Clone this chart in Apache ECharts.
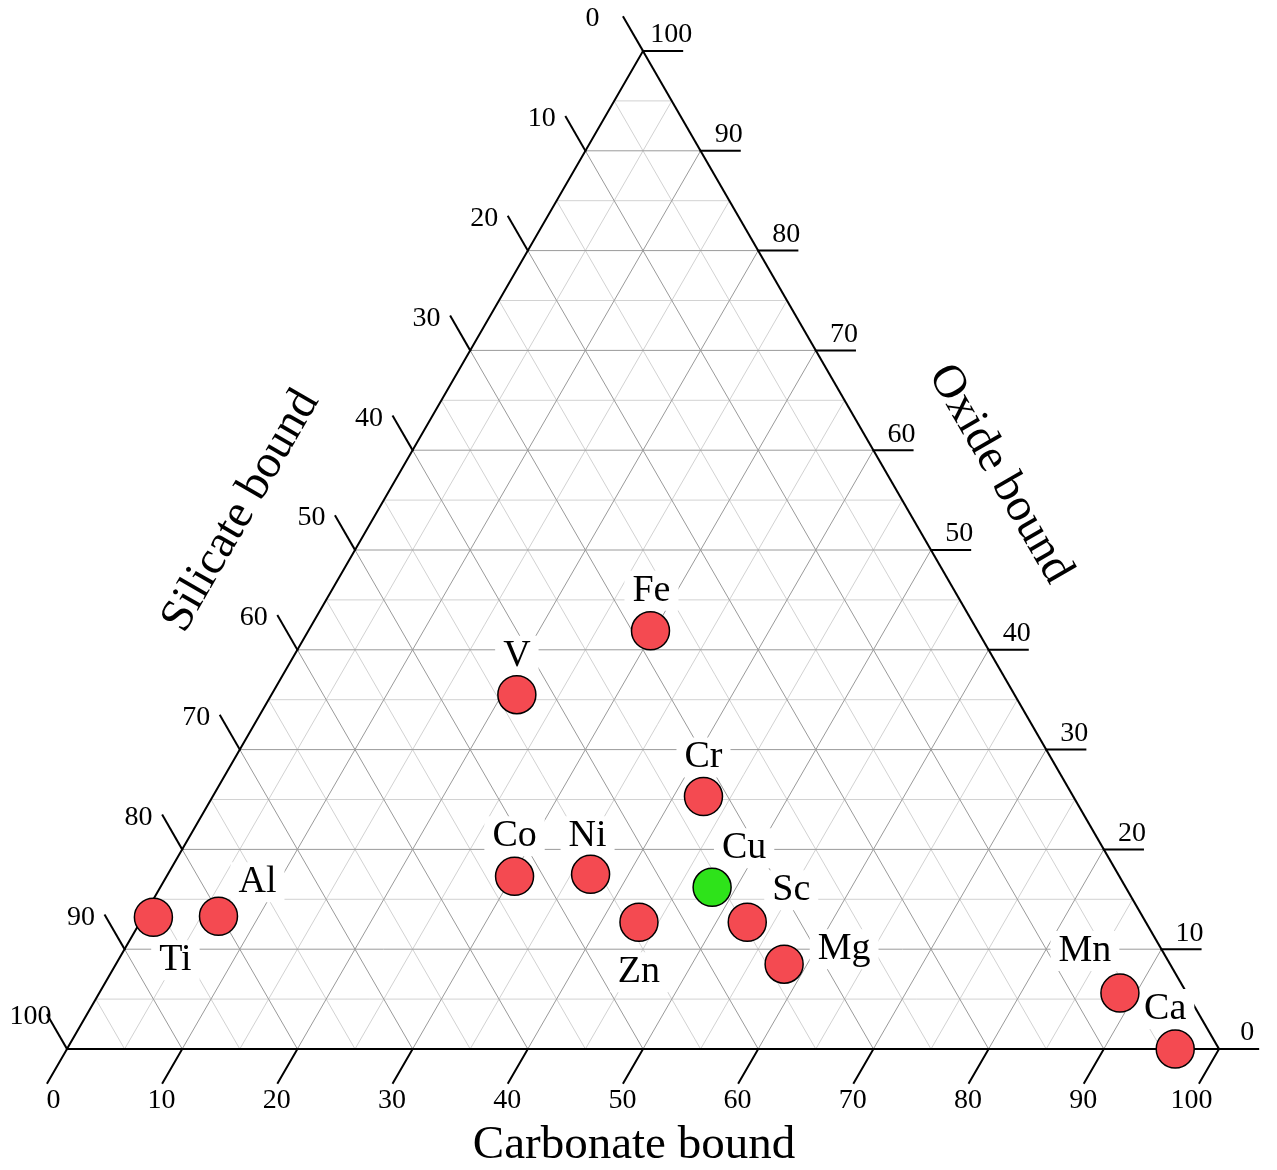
<!DOCTYPE html>
<html>
<head>
<meta charset="utf-8">
<script src="https://cdn.jsdelivr.net/npm/echarts@6/dist/echarts.min.js"></script>
<style>
  html, body { margin: 0; padding: 0; background: #fff; }
  #chart { width: 1277px; height: 1170px; }
</style>
</head>
<body>
<div id="chart"></div>
<script>
// Partitioning of each element between carbonate, silicate and oxide bound fractions (%)
const elements  = ['Ti', 'Al', 'V', 'Fe', 'Co', 'Ni', 'Zn', 'Cr', 'Cu', 'Sc', 'Mg', 'Mn', 'Ca'];
const carbonate = [0.9, 6.5, 21.3, 29.7, 30.2, 36.7, 43.3, 42.6, 47.9, 52.7, 58.0, 88.6, 96.2];
const silicate  = [85.9, 80.2, 43.2, 28.4, 52.5, 45.8, 44.0, 32.1, 35.9, 34.6, 33.5, 5.8, 3.8];
const oxide     = [13.2, 13.3, 35.5, 41.9, 17.3, 17.5, 12.7, 25.3, 16.2, 12.7, 8.5, 5.6, 0.0];
const highlighted = ['Cu'];

// Axis names and tick values
const axisTitles = ['Carbonate bound', 'Silicate bound', 'Oxide bound'];
const tickValues = [0, 10, 20, 30, 40, 50, 60, 70, 80, 90, 100];
const minorValues = [5, 15, 25, 35, 45, 55, 65, 75, 85, 95];

// ---- layout / style settings ----
const FONT = '"Liberation Serif", "Times New Roman", serif';
const TICK_LEN = 3.4;                 // tick length in percent units
const labelOffset = {                 // pixel offsets of element names from their markers
  Ti: [22, 43], Al: [39, -34], V: [0, -39], Fe: [1, -40], Co: [0, -40], Ni: [-3, -38],
  Zn: [0, 50], Cr: [0, -39], Cu: [32, -39], Sc: [44, -32], Mg: [60, -15], Mn: [-35, -42], Ca: [-10, -40]
};

// ternary (carbonate, silicate, oxide) -> plane coordinates; x = c + o/2, y = o
function toPlane(c, s, o) {
  const t = c + s + o;
  return [(c + o / 2) / t * 100, o / t * 100];
}

// grid segments: constant oxide (horizontal), constant carbonate, constant silicate
function gridSegments(values) {
  const segs = [];
  values.forEach(v => {
    if (v <= 0 || v >= 100) return;
    segs.push([v / 2, v, 100 - v / 2, v]);
    segs.push([v, 0, (100 + v) / 2, 100 - v]);
    segs.push([100 - v, 0, (100 - v) / 2, 100 - v]);
  });
  return segs;
}
const majorSegs = gridSegments(tickValues);
const minorSegs = gridSegments(minorValues);

// frame: triangle edges + outward ticks
const frameSegs = [[0, 0, 100, 0], [100, 0, 50, 100], [50, 100, 0, 0]];
const tickLabels = [];   // [x, y, axis, value]
tickValues.forEach(v => {
  // carbonate ticks along bottom edge
  const cb = [v - TICK_LEN / 2, -TICK_LEN];
  frameSegs.push([v, 0, cb[0], cb[1]]);
  tickLabels.push([cb[0], cb[1], 0, v]);
  // silicate ticks along left edge
  const sx = (100 - v) / 2, sy = 100 - v;
  const se = [(100 - v - TICK_LEN) / 2, 100 - v + TICK_LEN];
  frameSegs.push([sx, sy, se[0], se[1]]);
  tickLabels.push([se[0], se[1], 1, v]);
  // oxide ticks along right edge
  const ox = 100 - v / 2, oy = v;
  frameSegs.push([ox, oy, ox + TICK_LEN, oy]);
  tickLabels.push([ox + TICK_LEN, oy, 2, v]);
});

// axis title anchors at the edge midpoints
const titleAnchors = [[50, 0, 0], [25, 50, 1], [75, 50, 2]];
const titleStyle = [
  { dx: -9, dy: 97, rot: 0 },
  { dx: -114, dy: -39, rot: Math.PI / 3 },
  { dx: 69, dy: -76, rot: -Math.PI / 3 }
];

const points = elements.map((el, i) => {
  const p = toPlane(carbonate[i], silicate[i], oxide[i]);
  return {
    name: el,
    value: [p[0], p[1], i],
    itemStyle: { color: highlighted.indexOf(el) >= 0 ? '#2ee31a' : '#f44a51' }
  };
});

function segmentRenderer(color, width) {
  return function (params, api) {
    const a = api.coord([api.value(0), api.value(1)]);
    const b = api.coord([api.value(2), api.value(3)]);
    return {
      type: 'line',
      shape: { x1: a[0], y1: a[1], x2: b[0], y2: b[1] },
      style: { stroke: color, lineWidth: width, lineCap: 'square' },
      silent: true
    };
  };
}

function textEl(x, y, text, size, align, vAlign, extra) {
  const style = Object.assign({
    text: text, x: x, y: y, fill: '#000',
    font: size + 'px ' + FONT,
    align: align, verticalAlign: vAlign,
    textAlign: align, textVerticalAlign: vAlign
  }, extra || {});
  return { type: 'text', style: style, silent: true };
}

const chart = echarts.init(document.getElementById('chart'), null, { renderer: 'canvas' });
chart.setOption({
  animation: false,
  backgroundColor: '#fff',
  grid: { left: 67, right: 58, top: 51, bottom: 121 },
  xAxis: { type: 'value', min: 0, max: 100, show: false },
  yAxis: { type: 'value', min: 0, max: 100, show: false },
  series: [
    {
      type: 'custom', z: 1, data: minorSegs, encode: { x: [0, 2], y: [1, 3] },
      renderItem: segmentRenderer('#d2d2d2', 1)
    },
    {
      type: 'custom', z: 1, data: majorSegs, encode: { x: [0, 2], y: [1, 3] },
      renderItem: segmentRenderer('#9a9a9a', 1)
    },
    {
      type: 'custom', z: 2, data: frameSegs, encode: { x: [0, 2], y: [1, 3] },
      renderItem: segmentRenderer('#000', 2)
    },
    {
      // tick labels
      type: 'custom', z: 2, data: tickLabels, encode: { x: 0, y: 1 },
      renderItem: function (params, api) {
        const p = api.coord([api.value(0), api.value(1)]);
        const axis = api.value(2);
        const txt = String(api.value(3));
        if (axis === 0) return textEl(p[0] + 13, p[1] + 18, txt, 28, 'right', 'middle');
        if (axis === 1) return textEl(p[0] - 38, p[1] + 2, txt, 28, 'left', 'middle');
        return textEl(p[0] - 11, p[1] - 16, txt, 28, 'center', 'middle');
      }
    },
    {
      // axis titles
      type: 'custom', z: 2, data: titleAnchors, encode: { x: 0, y: 1 },
      renderItem: function (params, api) {
        const p = api.coord([api.value(0), api.value(1)]);
        const k = api.value(2);
        const st = titleStyle[k];
        const el = textEl(0, 0, axisTitles[k], 47, 'center', 'middle');
        el.x = p[0] + st.dx;
        el.y = p[1] + st.dy;
        el.rotation = st.rot;
        return el;
      }
    },
    {
      // element names
      type: 'custom', z: 3, data: points.map(d => d.value), encode: { x: 0, y: 1 },
      renderItem: function (params, api) {
        const p = api.coord([api.value(0), api.value(1)]);
        const name = elements[api.value(2)];
        const off = labelOffset[name];
        return textEl(p[0] + off[0], p[1] + off[1], name, 38, 'center', 'middle',
          { backgroundColor: '#fff', padding: [1, 8] });
      }
    },
    {
      type: 'scatter', z: 4, data: points,
      symbol: 'circle', symbolSize: 38,
      itemStyle: { borderColor: '#000', borderWidth: 1.5, opacity: 1 },
      emphasis: { disabled: true }
    }
  ]
});
</script>
</body>
</html>
